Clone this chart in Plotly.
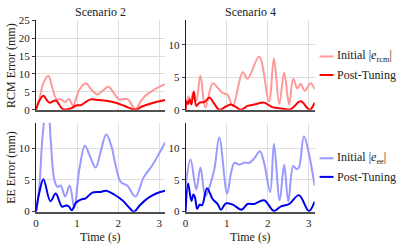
import plotly.graph_objects as go
from plotly.subplots import make_subplots

# ---------------- data ----------------
# Scenario 2, RCM error
s2_rcm_init_t = [0.0, 0.08, 0.18, 0.30, 0.40, 0.50, 0.62, 0.70, 0.80, 0.90, 1.05, 1.21, 1.35, 1.49, 1.62, 1.76, 1.90, 2.02, 2.22, 2.42, 2.55, 2.66, 2.90, 3.14]
s2_rcm_init_v = [0.0, 3.0, 7.5, 9.5, 6.0, 3.0, 2.9, 2.1, 3.0, 1.2, 5.5, 7.4, 5.6, 4.3, 5.3, 6.4, 4.6, 2.9, 3.0, 0.2, 2.4, 3.9, 5.8, 7.1]
s2_rcm_post_t = [0.0, 0.08, 0.18, 0.32, 0.48, 0.65, 0.85, 0.97, 1.09, 1.20, 1.33, 1.53, 1.78, 1.96, 2.17, 2.42, 2.58, 2.82, 3.14]
s2_rcm_post_v = [0.0, 2.5, 3.9, 2.0, 2.6, 0.2, 0.4, 1.2, 1.3, 2.1, 2.9, 2.7, 2.4, 1.9, 1.0, 0.0, 0.9, 1.8, 2.7]

# Scenario 4, RCM error
s4_rcm_init_t = [0.0, 0.07, 0.12, 0.18, 0.26, 0.36, 0.48, 0.66, 0.78, 0.90, 1.02, 1.15, 1.39, 1.51, 1.79, 2.03, 2.15, 2.28, 2.40, 2.52, 2.62, 2.72, 2.80, 2.90, 3.04, 3.14]
s4_rcm_init_v = [0.0, 2.1, 1.1, 2.6, 1.4, 5.3, 0.35, 4.1, 3.4, 2.6, 2.3, 0.6, 5.8, 4.8, 8.2, 1.3, 7.9, 0.9, 5.7, 0.8, 4.8, 3.3, 4.0, 2.9, 4.1, 3.2]
s4_rcm_post_t = [0.0, 0.02, 0.06, 0.10, 0.14, 0.20, 0.26, 0.34, 0.46, 0.58, 0.70, 0.82, 0.98, 1.10, 1.23, 1.35, 1.51, 1.67, 1.91, 2.11, 2.32, 2.56, 2.80, 3.02, 3.14]
s4_rcm_post_v = [0.0, 1.3, 0.9, 1.6, 0.8, 2.8, 0.6, 1.1, 1.2, 1.9, 0.9, 0.0, 0.5, 0.8, 0.4, 0.0, 0.6, 0.8, 1.1, 0.4, 0.2, 0.1, 1.3, 0.0, 1.1]

# Scenario 2, EE error
s2_ee_init_t = [0.0, 0.08, 0.16, 0.28, 0.36, 0.44, 0.52, 0.60, 0.71, 0.82, 0.93, 1.05, 1.19, 1.32, 1.45, 1.58, 1.71, 1.84, 1.94, 2.06, 2.22, 2.42, 2.62, 2.82, 3.00, 3.14]
s2_ee_init_v = [0.0, 4.0, 12.0, 18.0, 11.0, 5.2, 3.9, 4.1, 2.4, 4.1, 0.6, 6.5, 10.4, 8.6, 6.95, 9.6, 12.2, 10.2, 7.2, 4.7, 4.1, 2.4, 5.4, 7.2, 9.2, 10.9]
s2_ee_post_t = [0.0, 0.08, 0.18, 0.35, 0.48, 0.63, 0.73, 0.80, 0.87, 0.97, 1.09, 1.21, 1.37, 1.57, 1.71, 1.90, 2.10, 2.26, 2.38, 2.54, 2.74, 2.94, 3.14]
s2_ee_post_v = [0.0, 3.0, 5.1, 1.65, 2.85, 0.8, 0.95, 0.8, 0.2, 1.4, 1.9, 2.1, 3.0, 3.1, 3.3, 2.7, 1.8, 0.7, 0.0, 1.1, 2.2, 2.9, 3.3]

# Scenario 4, EE error
s4_ee_init_t = [0.0, 0.12, 0.26, 0.36, 0.48, 0.58, 0.70, 0.82, 1.01, 1.10, 1.19, 1.31, 1.43, 1.55, 1.67, 1.81, 1.91, 2.06, 2.15, 2.29, 2.40, 2.50, 2.62, 2.70, 2.76, 2.88, 3.00, 3.14]
s4_ee_init_v = [4.0, 8.2, 3.5, 6.95, 2.45, 3.9, 6.7, 11.7, 2.8, 5.9, 7.7, 7.4, 7.7, 7.7, 8.4, 9.5, 7.7, 3.1, 10.7, 1.8, 7.4, 1.6, 7.2, 6.7, 7.0, 11.9, 9.2, 4.1]
s4_ee_post_t = [0.0, 0.06, 0.14, 0.19, 0.23, 0.28, 0.34, 0.40, 0.52, 0.66, 0.78, 0.86, 0.98, 1.15, 1.36, 1.51, 1.67, 1.91, 2.15, 2.31, 2.52, 2.76, 3.00, 3.14]
s4_ee_post_v = [0.0, 4.45, 1.7, 2.7, 2.2, 0.45, 1.1, 1.0, 3.7, 1.95, 1.2, 0.3, 1.3, 1.1, 0.3, 1.2, 1.2, 1.8, 0.1, 0.8, 1.2, 2.6, 0.1, 1.6]

x_ticks = [0, 1, 2, 3]
titles = ["Scenario 2", "Scenario 4"]

# ---------------- styling ----------------
FONT = "Liberation Serif, Times New Roman, serif"
RED_L = "rgb(255,153,153)"
RED = "rgb(255,0,0)"
BLUE_L = "rgb(153,153,255)"
BLUE = "rgb(0,0,240)"
W, H = 400, 250

fig = make_subplots(rows=2, cols=2)

def add(t, v, color, row, col):
    fig.add_trace(go.Scatter(x=t, y=v, mode="lines", line=dict(color=color, width=2, shape="spline", smoothing=1.0),
                             showlegend=False, hoverinfo="skip"), row=row, col=col)

add(s2_rcm_init_t, s2_rcm_init_v, RED_L, 1, 1)
add(s2_rcm_post_t, s2_rcm_post_v, RED, 1, 1)
add(s4_rcm_init_t, s4_rcm_init_v, RED_L, 1, 2)
add(s4_rcm_post_t, s4_rcm_post_v, RED, 1, 2)
add(s2_ee_init_t, s2_ee_init_v, BLUE_L, 2, 1)
add(s2_ee_post_t, s2_ee_post_v, BLUE, 2, 1)
add(s4_ee_init_t, s4_ee_init_v, BLUE_L, 2, 2)
add(s4_ee_post_t, s4_ee_post_v, BLUE, 2, 2)

xl = (33.3 / W, 163.3 / W)
xr = (184 / W, 314 / W)
yt = (1 - 109 / H, 1 - 15 / H)
yb = (1 - 216 / H, 1 - 122.7 / H)

xdom = {1: xl, 2: xr}
ydom = {1: yt, 2: yb}
yranges = {(1, 1): ([0, 25], [0, 5, 10, 15, 20, 25]),
           (1, 2): ([0, 13.8], [0, 5, 10]),
           (2, 1): ([0, 14], [0, 5, 10]),
           (2, 2): ([0, 14], [0, 5, 10])}

for r in (1, 2):
    for c in (1, 2):
        fig.update_xaxes(row=r, col=c, domain=xdom[c], range=[0, 3.1416], tickvals=x_ticks,
                         showticklabels=(r == 2), showgrid=True, gridcolor="rgb(222,222,222)", gridwidth=1,
                         showline=True, linecolor="rgb(80,80,80)", linewidth=2,
                         ticks="", tickfont=dict(family=FONT, size=11, color="#222"), zeroline=False)
        rng, tv = yranges[(r, c)]
        fig.update_yaxes(row=r, col=c, domain=ydom[r], range=rng, tickvals=tv,
                         showgrid=True, gridcolor="rgb(222,222,222)", gridwidth=1,
                         showline=True, linecolor="rgb(30,30,30)", linewidth=1,
                         ticks="outside", ticklen=3, tickcolor="rgb(60,60,60)",
                         tickfont=dict(family=FONT, size=11, color="#222"), zeroline=False)

ann = []
tfont = dict(family=FONT, size=12, color="#222")
for i, ttl in enumerate(titles):
    xd = xdom[i + 1]
    ann.append(dict(text=ttl, x=(xd[0] + xd[1]) / 2, y=1 - 6 / H, xref="paper", yref="paper",
                    showarrow=False, font=tfont, xanchor="center", yanchor="middle"))
    ann.append(dict(text="Time (s)", x=(xd[0] + xd[1]) / 2, y=1 - 242.5 / H, xref="paper", yref="paper",
                    showarrow=False, font=tfont, xanchor="center", yanchor="middle"))
ann.append(dict(text="RCM Error (mm)", x=8 / W, y=1 - 62 / H, xref="paper", yref="paper", textangle=-90,
                showarrow=False, font=tfont, xanchor="center", yanchor="middle"))
ann.append(dict(text="EE Error (mm)", x=8 / W, y=1 - 169 / H, xref="paper", yref="paper", textangle=-90,
                showarrow=False, font=tfont, xanchor="center", yanchor="middle"))

# legends (drawn as text + swatches)
legend_items = [("Initial |<i>e</i><sub>rcm</sub>|", RED_L, 53),
                ("Post-Tuning", RED, 72.5),
                ("Initial |<i>e</i><sub>ee</sub>|", BLUE_L, 160),
                ("Post-Tuning", BLUE, 179.5)]
shapes = []
for txt, col, yp in legend_items:
    shapes.append(dict(type="line", xref="paper", yref="paper", x0=319 / W, x1=333 / W,
                       y0=1 - yp / H, y1=1 - yp / H, line=dict(color=col, width=2)))
    ann.append(dict(text=txt, x=335 / W, y=1 - yp / H, xref="paper", yref="paper", showarrow=False,
                    font=tfont, xanchor="left", yanchor="middle"))

fig.update_layout(width=W, height=H, margin=dict(l=0, r=0, t=0, b=0),
                  paper_bgcolor="white", plot_bgcolor="white",
                  annotations=ann, shapes=shapes, showlegend=False,
                  font=dict(family=FONT, size=12, color="#222"))

fig.write_html("out.html", config={"displayModeBar": False},
               post_script="document.body.style.margin='0';document.body.style.padding='0';")
